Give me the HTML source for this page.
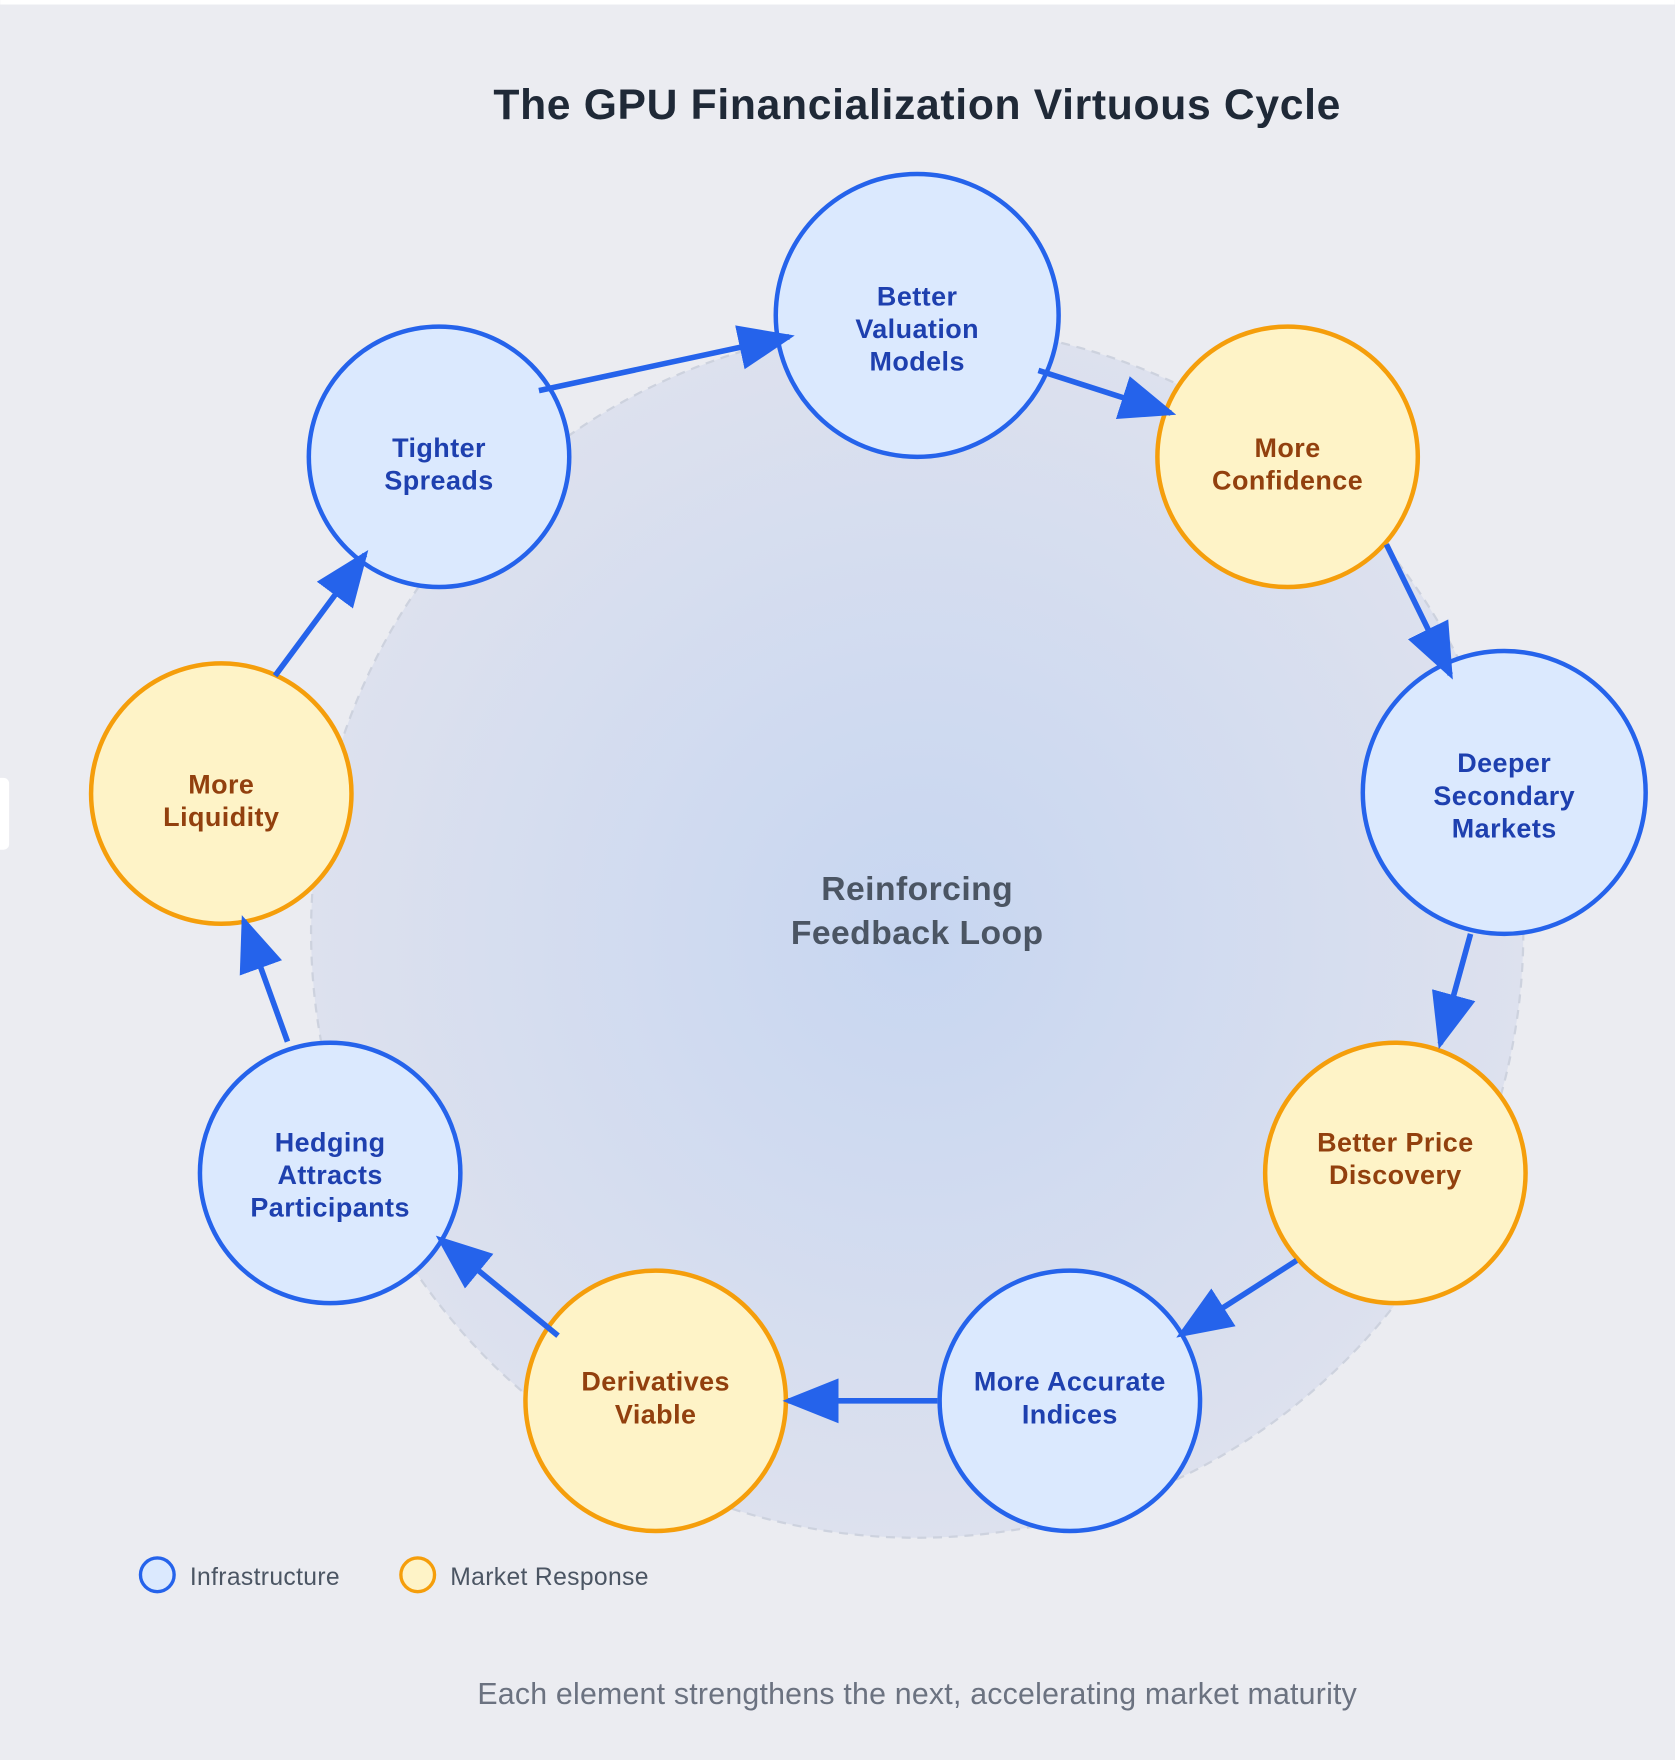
<!DOCTYPE html>
<html><head><meta charset="utf-8"><style>
html,body{margin:0;padding:0;background:#ebecf1;}
svg{display:block;}
text{font-family:"Liberation Sans",sans-serif;}
</style></head><body>
<svg width="1675" height="1760" viewBox="0 0 1492 1568" xmlns="http://www.w3.org/2000/svg">
<defs>
<radialGradient id="g" cx="0.5" cy="0.5" r="0.5">
<stop offset="0" stop-color="#c7d6f1"/>
<stop offset="1" stop-color="#dde1ee"/>
</radialGradient>
<marker id="a" markerWidth="10" markerHeight="8" refX="9" refY="4" orient="auto" markerUnits="strokeWidth">
<path d="M0,0 L10,4 L0,8 Z" fill="#2563eb"/>
</marker>
</defs>
<rect x="0" y="0" width="1492" height="1568" fill="#ebecf1"/>
<rect x="0" y="0" width="1492" height="4" fill="#ffffff"/>
<rect x="-6" y="693" width="14" height="64" rx="5" fill="#ffffff"/>
<text x="817" y="106" text-anchor="middle" font-size="38" font-weight="bold" fill="#1f2937" letter-spacing="0.6">The GPU Financialization Virtuous Cycle</text>
<circle cx="817" cy="830" r="540" fill="url(#g)" stroke="#cdd2de" stroke-width="2" stroke-dasharray="8,6"/>
<text x="817" y="802" text-anchor="middle" font-size="30" font-weight="bold" fill="#4b5563" letter-spacing="0.4">Reinforcing</text>
<text x="817" y="841" text-anchor="middle" font-size="30" font-weight="bold" fill="#4b5563" letter-spacing="0.4">Feedback Loop</text>
<g stroke-width="4">
<circle cx="817" cy="281" r="126" fill="#dbe9fe" stroke="#2563eb"/>
<circle cx="391" cy="407" r="116" fill="#dbe9fe" stroke="#2563eb"/>
<circle cx="1147" cy="407" r="116" fill="#fef3c7" stroke="#f59e0b"/>
<circle cx="1340" cy="706" r="126" fill="#dbe9fe" stroke="#2563eb"/>
<circle cx="1243" cy="1045" r="116" fill="#fef3c7" stroke="#f59e0b"/>
<circle cx="953" cy="1248" r="116" fill="#dbe9fe" stroke="#2563eb"/>
<circle cx="584" cy="1248" r="116" fill="#fef3c7" stroke="#f59e0b"/>
<circle cx="294" cy="1045" r="116" fill="#dbe9fe" stroke="#2563eb"/>
<circle cx="197" cy="707" r="116" fill="#fef3c7" stroke="#f59e0b"/>
</g>
<g stroke="#2563eb" stroke-width="5" fill="none" marker-end="url(#a)">
<line x1="480" y1="348" x2="703" y2="300"/>
<line x1="925" y1="330" x2="1043" y2="368"/>
<line x1="1235" y1="485" x2="1292" y2="601"/>
<line x1="1310" y1="832" x2="1283" y2="930"/>
<line x1="1155" y1="1123" x2="1052" y2="1189"/>
<line x1="835" y1="1248" x2="702" y2="1248"/>
<line x1="497" y1="1190" x2="392" y2="1104"/>
<line x1="256" y1="928" x2="217" y2="820"/>
<line x1="245" y1="602" x2="325" y2="494"/>
</g>
<g font-size="24" font-weight="bold" text-anchor="middle" letter-spacing="0.4">
<g fill="#1e40af">
<text x="817" y="272">Better</text><text x="817" y="301">Valuation</text><text x="817" y="330">Models</text>
<text x="391" y="407">Tighter</text><text x="391" y="436">Spreads</text>
<text x="1340" y="688">Deeper</text><text x="1340" y="717">Secondary</text><text x="1340" y="746">Markets</text>
<text x="953" y="1239">More Accurate</text><text x="953" y="1268">Indices</text>
<text x="294" y="1026">Hedging</text><text x="294" y="1055">Attracts</text><text x="294" y="1084">Participants</text>
</g>
<g fill="#92400e">
<text x="1147" y="407">More</text><text x="1147" y="436">Confidence</text>
<text x="1243" y="1026">Better Price</text><text x="1243" y="1055">Discovery</text>
<text x="584" y="1239">Derivatives</text><text x="584" y="1268">Viable</text>
<text x="197" y="707">More</text><text x="197" y="736">Liquidity</text>
</g>
</g>
<circle cx="140" cy="1403" r="15" fill="#dbe9fe" stroke="#2563eb" stroke-width="3"/>
<text x="169" y="1412" font-size="22" fill="#4b5563" letter-spacing="0.3">Infrastructure</text>
<circle cx="372" cy="1403" r="15" fill="#fef3c7" stroke="#f59e0b" stroke-width="3"/>
<text x="401" y="1412" font-size="22" fill="#4b5563" letter-spacing="0.3">Market Response</text>
<text x="817" y="1518" text-anchor="middle" font-size="27" fill="#6b7280" letter-spacing="0.2">Each element strengthens the next, accelerating market maturity</text>
</svg>
</body></html>
